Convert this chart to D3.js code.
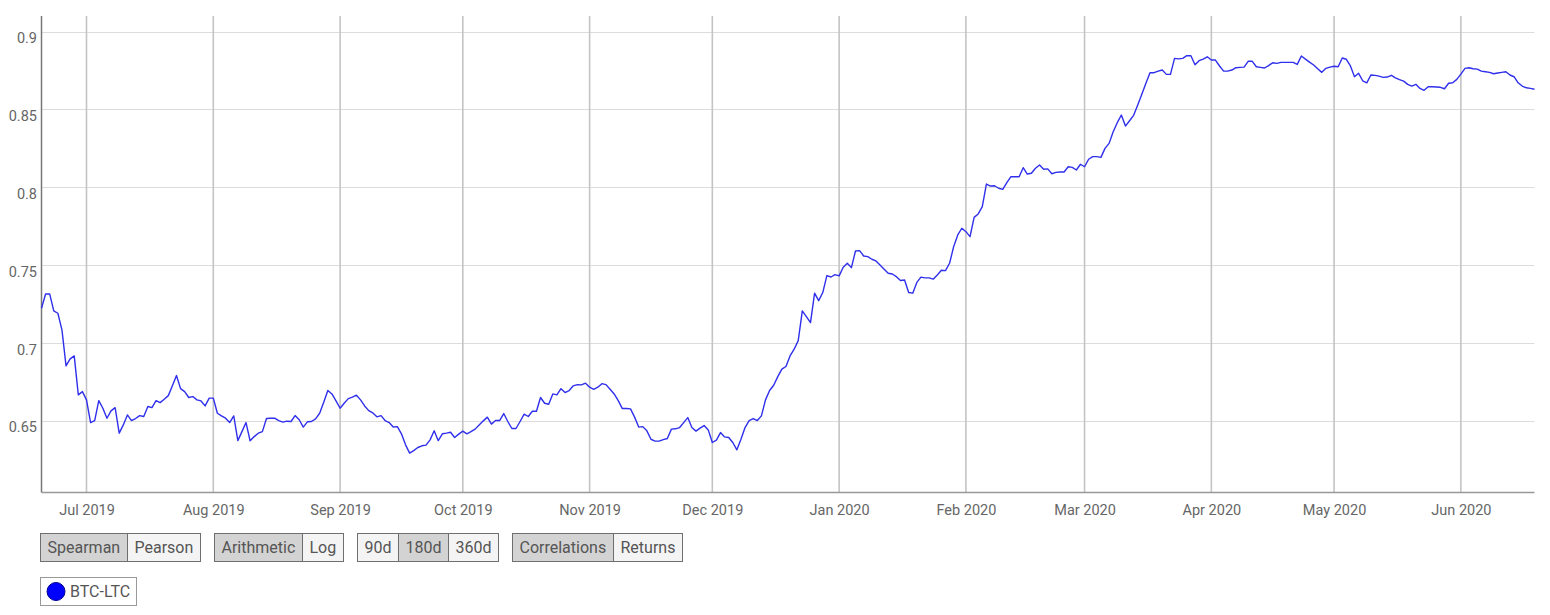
<!DOCTYPE html>
<html>
<head>
<meta charset="utf-8">
<script src="https://cdn.jsdelivr.net/npm/d3@7"></script>
<style>
  html, body { margin: 0; padding: 0; background: #fff; }
  svg { display: block; font-family: Roboto, "Noto Sans", sans-serif; }
</style>
</head>
<body>
<svg id="chart" width="1550" height="615"></svg>
<script>
// ---------- DATA ----------
const seriesName = "BTC-LTC";
const startDate = "2019-06-20";   // first daily observation
const endDate = "2020-06-19";     // last daily observation
// Daily 180d Spearman correlation BTC-LTC (read from the chart)
const values = [
  0.7223,0.7315,0.7315,0.7206,0.7191,0.7084,0.6853,0.6898,0.6917,0.6667,
  0.6688,0.6635,0.6489,0.6502,0.6630,0.6581,0.6517,0.6564,0.6585,0.6421,
  0.6474,0.6538,0.6502,0.6515,0.6534,0.6528,0.6592,0.6585,0.6630,0.6617,
  0.6639,0.6662,0.6725,0.6791,0.6707,0.6688,0.6650,0.6656,0.6635,0.6628,
  0.6596,0.6646,0.6646,0.6549,0.6532,0.6517,0.6489,0.6532,0.6373,0.6431,
  0.6489,0.6372,0.6399,0.6421,0.6431,0.6515,0.6517,0.6517,0.6502,0.6492,
  0.6498,0.6496,0.6534,0.6507,0.6460,0.6494,0.6496,0.6513,0.6549,0.6620,
  0.6695,0.6673,0.6628,0.6581,0.6613,0.6643,0.6652,0.6665,0.6635,0.6596,
  0.6566,0.6551,0.6526,0.6534,0.6502,0.6489,0.6461,0.6463,0.6417,0.6346,
  0.6293,0.6309,0.6329,0.6340,0.6344,0.6378,0.6436,0.6373,0.6417,0.6421,
  0.6427,0.6393,0.6415,0.6434,0.6417,0.6431,0.6447,0.6474,0.6500,0.6524,
  0.6479,0.6502,0.6502,0.6547,0.6496,0.6451,0.6451,0.6496,0.6543,0.6528,
  0.6562,0.6562,0.6650,0.6613,0.6607,0.6673,0.6667,0.6707,0.6682,0.6695,
  0.6725,0.6733,0.6731,0.6742,0.6716,0.6703,0.6716,0.6739,0.6733,0.6703,
  0.6673,0.6630,0.6579,0.6579,0.6577,0.6524,0.6460,0.6463,0.6436,0.6382,
  0.6370,0.6370,0.6380,0.6387,0.6447,0.6449,0.6457,0.6489,0.6521,0.6457,
  0.6434,0.6453,0.6470,0.6442,0.6361,0.6376,0.6425,0.6397,0.6393,0.6361,
  0.6314,0.6382,0.6457,0.6502,0.6515,0.6502,0.6532,0.6635,0.6695,0.6729,
  0.6784,0.6832,0.6849,0.6917,0.6960,0.7015,0.7206,0.7169,0.7131,0.7320,
  0.7272,0.7324,0.7433,0.7424,0.7439,0.7431,0.7487,0.7512,0.7484,0.7591,
  0.7593,0.7559,0.7555,0.7538,0.7527,0.7501,0.7474,0.7448,0.7443,0.7426,
  0.7401,0.7405,0.7324,0.7320,0.7389,0.7423,0.7418,0.7418,0.7410,0.7437,
  0.7467,0.7465,0.7512,0.7619,0.7694,0.7737,0.7715,0.7683,0.7807,0.7829,
  0.7876,0.8021,0.8008,0.8010,0.7994,0.7987,0.8030,0.8068,0.8068,0.8068,
  0.8126,0.8085,0.8090,0.8122,0.8143,0.8116,0.8118,0.8087,0.8096,0.8098,
  0.8098,0.8132,0.8128,0.8111,0.8148,0.8132,0.8180,0.8197,0.8197,0.8192,
  0.8250,0.8282,0.8357,0.8415,0.8464,0.8393,0.8427,0.8462,0.8528,0.8597,
  0.8668,0.8736,0.8736,0.8746,0.8753,0.8725,0.8725,0.8828,0.8825,0.8828,
  0.8845,0.8845,0.8787,0.8813,0.8823,0.8838,0.8817,0.8817,0.8779,0.8746,
  0.8746,0.8753,0.8768,0.8770,0.8772,0.8809,0.8809,0.8774,0.8770,0.8766,
  0.8781,0.8800,0.8796,0.8802,0.8802,0.8802,0.8802,0.8789,0.8843,0.8823,
  0.8804,0.8785,0.8761,0.8738,0.8764,0.8772,0.8777,0.8774,0.8830,0.8822,
  0.8779,0.8710,0.8732,0.8684,0.8671,0.8721,0.8719,0.8714,0.8706,0.8708,
  0.8719,0.8703,0.8691,0.8682,0.8661,0.8650,0.8661,0.8635,0.8623,0.8646,
  0.8646,0.8644,0.8642,0.8633,0.8668,0.8671,0.8693,0.8727,0.8764,0.8768,
  0.8761,0.8759,0.8746,0.8742,0.8738,0.8729,0.8734,0.8738,0.8742,0.8721,
  0.8710,0.8671,0.8650,0.8639,0.8635,0.8630
];
const yTicks = [0.65, 0.7, 0.75, 0.8, 0.85, 0.9];
const yDomain = [0.604, 0.91];
const xTickMonths = ["2019-07-01","2019-08-01","2019-09-01","2019-10-01","2019-11-01","2019-12-01",
                     "2020-01-01","2020-02-01","2020-03-01","2020-04-01","2020-05-01","2020-06-01"];
const buttonGroups = [["Spearman","Pearson"],["Arithmetic","Log"],["90d","180d","360d"],["Correlations","Returns"]];
const selectedButtons = ["Spearman","Arithmetic","180d","Correlations"];

// ---------- CHART ----------
const parse = d3.utcParse("%Y-%m-%d");
const t0 = parse(startDate);
const dates = values.map((_, i) => d3.utcDay.offset(t0, i));
const data = dates.map((d, i) => ({date: d, value: values[i]}));

const svg = d3.select("#chart");
const plotL = 41.5, plotR = 1534.5, plotT = 16, plotB = 492.5;

const x = d3.scaleUtc().domain([t0, parse(endDate)]).range([plotL, plotR]);
const y = d3.scaleLinear().domain(yDomain).range([plotB, plotT]);

// horizontal grid
svg.append("g").selectAll("line").data(yTicks).join("line")
  .attr("x1", plotL).attr("x2", plotR)
  .attr("y1", d => Math.round(y(d)) + 0.5).attr("y2", d => Math.round(y(d)) + 0.5)
  .attr("stroke", "#dcdcdc").attr("stroke-width", 1);

// vertical grid
const xTicks = xTickMonths.map(parse);
svg.append("g").selectAll("line").data(xTicks).join("line")
  .attr("x1", d => x(d)).attr("x2", d => x(d))
  .attr("y1", plotT).attr("y2", plotB)
  .attr("stroke", "#c4c4c4").attr("stroke-width", 1.6);

// axes (using d3 axes for labels)
const yAxis = svg.append("g").attr("transform", `translate(${plotL},0)`)
  .call(d3.axisLeft(y).tickValues(yTicks).tickSize(0).tickPadding(5).tickFormat(d3.format("")));
yAxis.select(".domain").remove();
yAxis.selectAll("text").attr("fill", "#666").attr("font-size", "14.5px")
  .attr("font-family", "Roboto, sans-serif").attr("dy", "11").attr("x", -4.5);

const xAxis = svg.append("g").attr("transform", `translate(0,${plotB})`)
  .call(d3.axisBottom(x).tickValues(xTicks).tickSize(0).tickPadding(0).tickFormat(d3.utcFormat("%b %Y")));
xAxis.select(".domain").remove();
xAxis.selectAll("text").attr("fill", "#666").attr("font-size", "14.5px")
  .attr("font-family", "Roboto, sans-serif").attr("dy", "0").attr("y", 22);

// axis lines
svg.append("line").attr("x1", plotL).attr("x2", plotL).attr("y1", plotT).attr("y2", plotB)
  .attr("stroke", "#777").attr("stroke-width", 1.5);
svg.append("line").attr("x1", plotL).attr("x2", plotR).attr("y1", plotB).attr("y2", plotB)
  .attr("stroke", "#999").attr("stroke-width", 1.5);

// series line
const line = d3.line().x(d => x(d.date)).y(d => y(d.value));
svg.append("path").datum(data)
  .attr("d", line).attr("fill", "none")
  .attr("stroke", "#2f2fec").attr("stroke-width", 1.4).attr("stroke-linejoin", "round");

// ---------- BUTTONS ----------
const btnY = 533.5, btnH = 28, pad = 7, groupGap = 14;
let bx = 40.5;
buttonGroups.forEach(group => {
  group.forEach(label => {
    const g = svg.append("g");
    const rect = g.append("rect").attr("y", btnY).attr("height", btnH)
      .attr("fill", selectedButtons.includes(label) ? "#d3d3d3" : "#f4f4f4")
      .attr("stroke", "#6f6f6f").attr("stroke-width", 1);
    const txt = g.append("text").text(label)
      .attr("y", btnY + 19.5).attr("font-size", "16px").attr("fill", "#555")
      .attr("font-family", "Roboto, sans-serif");
    const w = Math.round(txt.node().getComputedTextLength() + pad * 2);
    rect.attr("x", bx).attr("width", w);
    txt.attr("x", bx + pad);
    bx += w;
  });
  bx += groupGap;
});

// ---------- LEGEND ----------
const lg = svg.append("g");
const lgRect = lg.append("rect").attr("x", 40.5).attr("y", 577.5).attr("height", 28)
  .attr("fill", "#fff").attr("stroke", "#999").attr("stroke-width", 1);
lg.append("circle").attr("cx", 56).attr("cy", 591.5).attr("r", 9)
  .attr("fill", "#0000ff").attr("stroke", "#00008b").attr("stroke-width", 1);
const lgText = lg.append("text").text(seriesName).attr("x", 70).attr("y", 597)
  .attr("font-size", "16px").attr("fill", "#555").attr("font-family", "Roboto, sans-serif");
lgRect.attr("width", Math.round(70 - 40.5 + lgText.node().getComputedTextLength() + 6));
</script>
</body>
</html>
